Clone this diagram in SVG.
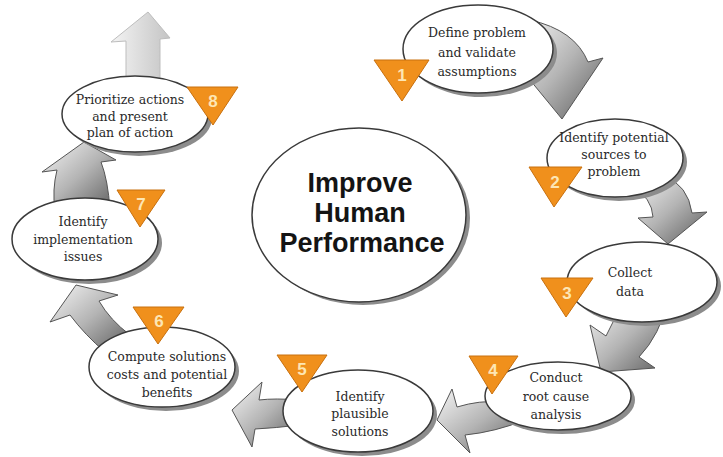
<svg xmlns="http://www.w3.org/2000/svg" width="723" height="457" viewBox="0 0 723 457">
<style>
.sh{fill:#8c8c8c}
.el{fill:#ffffff;stroke:#3a3a3a;stroke-width:1.5}
.t{font-family:"DejaVu Serif","Liberation Serif",serif;font-size:12.5px;fill:#2a2a2a;text-anchor:middle}
.tri{fill:#f0901c;stroke:#c8700e;stroke-width:1}
.num{font-family:"Liberation Sans",Arial,sans-serif;font-weight:bold;font-size:17px;fill:#fde6b4;text-anchor:middle}
.arr{fill:url(#ag);stroke:#555555;stroke-width:1;stroke-linejoin:round}
.title{font-family:"Liberation Sans",Arial,sans-serif;font-weight:bold;font-size:27px;fill:#141414;text-anchor:middle}
</style>
<defs>
<linearGradient id="ag" x1="0" y1="0" x2="1" y2="1">
<stop offset="0" stop-color="#f6f6f6"/>
<stop offset="0.5" stop-color="#b4b4b4"/>
<stop offset="1" stop-color="#5c5c5c"/>
</linearGradient>
<linearGradient id="lg" x1="0" y1="0" x2="1" y2="0">
<stop offset="0" stop-color="#f4f4f4"/>
<stop offset="1" stop-color="#c4c4c4"/>
</linearGradient>
</defs>
<rect width="723" height="457" fill="#ffffff"/>
<g id="connectors">
<path class="arr" d="M 520 50 Q 540 68 545 76 L 530 80 L 562 119 L 603 58 L 588 62 Q 575 30 530 20 Z"/>
<path class="arr" d="M 632 186 Q 652 198 653 217 L 638 218 L 668 244 L 707 212 L 692 213 Q 688 185 664 176 Z"/>
<path class="arr" d="M 590 325 L 606 336 Q 616 318 622 300 L 668 300 Q 660 335 639 357 L 655 368 L 601 372 Z"/>
<path class="arr" d="M 457 407 Q 480 400 500 402 L 525 420 Q 495 432 465 435 L 470 453 L 437 420 L 452 389 Z"/>
<path class="arr" d="M 259 400 Q 275 398 300 400 L 300 425 Q 275 428 255 429 L 252 447 L 232 410 L 262 382 Z"/>
<path class="arr" d="M 70 315 Q 85 335 105 352 L 130 335 Q 110 320 99 301 L 118 295 L 76 285 L 50 322 Z"/>
<path class="arr" d="M 57 170 Q 52 190 55 210 L 110 210 Q 108 180 101 162 L 116 160 L 84 142 L 42 172 Z"/>
<path d="M 126 41 L 126 90 L 160 90 L 160 39 L 170 38 L 148 12 L 111 42 Z" fill="url(#lg)" stroke="#bdbdbd" stroke-width="1"/>
</g>
<g id="center">
<ellipse class="sh" cx="363" cy="218" rx="107" ry="87"/>
<ellipse class="el" cx="359" cy="215" rx="107" ry="87"/>
<text class="title" x="360" y="192">Improve</text>
<text class="title" x="360" y="222">Human</text>
<text class="title" x="362" y="252">Performance</text>
</g>
<g id="n1">
<ellipse class="sh" cx="482" cy="53" rx="75" ry="44"/>
<ellipse class="el" cx="478" cy="49" rx="75" ry="44"/>
<text class="t" x="477" y="37">Define problem</text>
<text class="t" x="477" y="57">and validate</text>
<text class="t" x="477" y="76">assumptions</text>
<polygon class="tri" points="374,60 429,60 402,101"/>
<text class="num" x="402" y="81">1</text>
</g>
<g id="n2">
<ellipse class="sh" cx="619" cy="162" rx="68" ry="39"/>
<ellipse class="el" cx="615" cy="158" rx="68" ry="39"/>
<text class="t" x="614" y="142">Identify potential</text>
<text class="t" x="614" y="159">sources to</text>
<text class="t" x="614" y="176">problem</text>
<polygon class="tri" points="529,167 582,167 554,207"/>
<text class="num" x="555" y="188">2</text>
</g>
<g id="n3">
<ellipse class="sh" cx="646" cy="286" rx="75" ry="40"/>
<ellipse class="el" cx="642" cy="282" rx="75" ry="40"/>
<text class="t" x="630" y="277">Collect</text>
<text class="t" x="630" y="296">data</text>
<polygon class="tri" points="541,278 593,278 566,317"/>
<text class="num" x="567" y="299">3</text>
</g>
<g id="n4">
<ellipse class="sh" cx="562" cy="400" rx="73" ry="34"/>
<ellipse class="el" cx="558" cy="396" rx="73" ry="34"/>
<text class="t" x="556" y="382">Conduct</text>
<text class="t" x="556" y="401">root cause</text>
<text class="t" x="556" y="419">analysis</text>
<polygon class="tri" points="469,356 518,356 492,394"/>
<text class="num" x="493" y="376">4</text>
</g>
<g id="n5">
<ellipse class="sh" cx="362" cy="415" rx="75" ry="41"/>
<ellipse class="el" cx="358" cy="411" rx="75" ry="41"/>
<text class="t" x="360" y="401">Identify</text>
<text class="t" x="360" y="418">plausible</text>
<text class="t" x="360" y="436">solutions</text>
<polygon class="tri" points="277,355 327,355 302,392"/>
<text class="num" x="302" y="375">5</text>
</g>
<g id="n6">
<ellipse class="sh" cx="166" cy="371" rx="73" ry="40"/>
<ellipse class="el" cx="162" cy="367" rx="73" ry="40"/>
<text class="t" x="167" y="361">Compute solutions</text>
<text class="t" x="167" y="379">costs and potential</text>
<text class="t" x="167" y="397">benefits</text>
<polygon class="tri" points="133,307 184,307 158,344"/>
<text class="num" x="159" y="327">6</text>
</g>
<g id="n7">
<ellipse class="sh" cx="89" cy="243" rx="73" ry="41"/>
<ellipse class="el" cx="85" cy="239" rx="73" ry="41"/>
<text class="t" x="83" y="226">Identify</text>
<text class="t" x="83" y="244">implementation</text>
<text class="t" x="83" y="261">issues</text>
<polygon class="tri" points="117,190 165,190 140,227"/>
<text class="num" x="141" y="210">7</text>
</g>
<g id="n8">
<ellipse class="sh" cx="139" cy="118" rx="73" ry="38"/>
<ellipse class="el" cx="135" cy="114" rx="73" ry="38"/>
<text class="t" x="130" y="104">Prioritize actions</text>
<text class="t" x="130" y="121">and present</text>
<text class="t" x="130" y="137">plan of action</text>
<polygon class="tri" points="187,87 238,87 213,125"/>
<text class="num" x="213" y="107">8</text>
</g>
</svg>
